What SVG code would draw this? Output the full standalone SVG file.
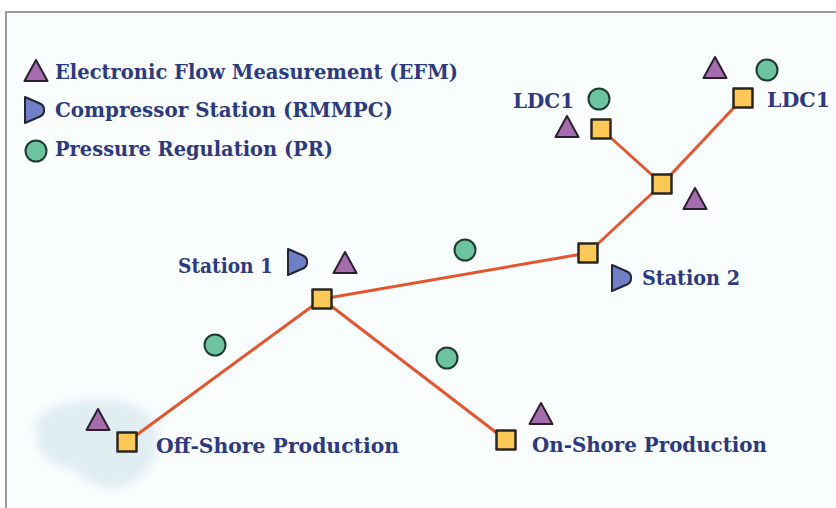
<svg xmlns="http://www.w3.org/2000/svg" width="836" height="508" viewBox="0 0 836 508">
  <style>
    .lbl { font-family: "DejaVu Serif", "Liberation Serif", serif; font-weight: bold; font-size: 21px; fill: #2d3a7e; }
    .pipe { stroke: #e5562e; stroke-width: 3; fill: none; stroke-linecap: round; }
    .sq { fill: #fdc956; stroke: #2a2620; stroke-width: 2.5; stroke-linejoin: round; }
    .efm { fill: #a56dad; stroke: #2c2030; stroke-width: 2; stroke-linejoin: round; }
    .pr { fill: #6dc39f; stroke: #1f3a30; stroke-width: 2; }
    .cmp { fill: #6f80c6; stroke: #222438; stroke-width: 2; stroke-linejoin: round; }
  </style>
  <defs>
    <path id="tri" d="M0,-11 L11.5,10 L-11.5,10 Z"/>
    <path id="comp" d="M0,0 L15,6.5 Q19,8.5 19,12 L19,14 Q19,17.5 15,19.5 L0,26 Z"/>
    <rect id="box" x="-9.5" y="-9.5" width="19" height="19"/>
    <filter id="blur" x="-20%" y="-20%" width="140%" height="140%">
      <feGaussianBlur stdDeviation="5"/>
    </filter>
  </defs>

  <!-- frame -->
  <rect x="0" y="0" width="836" height="508" fill="#ffffff"/>
  <rect x="6" y="12" width="832" height="500" fill="#f9fdfe"/>
  <path d="M6,508 L6,12 L836,12" fill="none" stroke="#9c9c9c" stroke-width="2"/>

  <!-- offshore water blob -->
  <path d="M36,428 C34,406 78,398 110,400 C144,402 162,422 157,448 C152,474 128,492 102,487 C84,483 78,468 60,465 C42,461 37,446 36,428 Z" fill="#e0edf1" filter="url(#blur)"/>

  <!-- legend -->
  <g id="legend-efm">
    <use href="#tri" class="efm" x="36" y="71"/>
    <text class="lbl" x="55" y="79" textLength="403" lengthAdjust="spacingAndGlyphs">Electronic Flow Measurement (EFM)</text>
  </g>
  <g id="legend-compressor">
    <use href="#comp" class="cmp" x="25" y="97"/>
    <text class="lbl" x="55" y="117" textLength="338" lengthAdjust="spacingAndGlyphs">Compressor Station (RMMPC)</text>
  </g>
  <g id="legend-pr">
    <circle class="pr" cx="36" cy="151" r="10.5"/>
    <text class="lbl" x="55" y="156" textLength="278" lengthAdjust="spacingAndGlyphs">Pressure Regulation (PR)</text>
  </g>

  <!-- connectors -->
  <g id="connectors">
    <line class="pipe" x1="127" y1="442" x2="322" y2="299"/>
    <line class="pipe" x1="322" y1="299" x2="588" y2="253"/>
    <line class="pipe" x1="322" y1="299" x2="506" y2="440"/>
    <line class="pipe" x1="588" y1="253" x2="662" y2="184"/>
    <line class="pipe" x1="662" y1="184" x2="601" y2="129"/>
    <line class="pipe" x1="662" y1="184" x2="743" y2="98"/>
  </g>

  <!-- pressure regulation markers along pipes -->
  <g id="pr-offshore-line"><circle class="pr" cx="215" cy="345" r="10.5"/></g>
  <g id="pr-onshore-line"><circle class="pr" cx="447" cy="358" r="10.5"/></g>
  <g id="pr-station-line"><circle class="pr" cx="465" cy="250" r="10.5"/></g>

  <!-- nodes -->
  <g id="offshore-production">
    <use href="#tri" class="efm" x="98" y="420"/>
    <use href="#box" class="sq" x="127" y="442"/>
    <text class="lbl" x="156" y="453" textLength="243" lengthAdjust="spacingAndGlyphs">Off-Shore Production</text>
  </g>
  <g id="station-1">
    <use href="#comp" class="cmp" x="288" y="249"/>
    <use href="#tri" class="efm" x="345" y="263"/>
    <use href="#box" class="sq" x="322" y="299"/>
    <text class="lbl" x="178" y="273" textLength="95" lengthAdjust="spacingAndGlyphs">Station 1</text>
  </g>
  <g id="onshore-production">
    <use href="#tri" class="efm" x="541" y="414"/>
    <use href="#box" class="sq" x="506" y="440"/>
    <text class="lbl" x="532" y="452" textLength="235" lengthAdjust="spacingAndGlyphs">On-Shore Production</text>
  </g>
  <g id="station-2">
    <use href="#box" class="sq" x="588" y="253"/>
    <use href="#comp" class="cmp" x="612" y="265"/>
    <text class="lbl" x="642" y="285" textLength="98" lengthAdjust="spacingAndGlyphs">Station 2</text>
  </g>
  <g id="junction">
    <use href="#box" class="sq" x="662" y="184"/>
    <use href="#tri" class="efm" x="695" y="199"/>
  </g>
  <g id="ldc1-left">
    <use href="#tri" class="efm" x="567" y="127"/>
    <use href="#box" class="sq" x="601" y="129"/>
    <circle class="pr" cx="599" cy="99" r="10.5"/>
    <text class="lbl" x="513" y="108" textLength="61" lengthAdjust="spacingAndGlyphs">LDC1</text>
  </g>
  <g id="ldc1-right">
    <use href="#tri" class="efm" x="715" y="68"/>
    <circle class="pr" cx="767" cy="70" r="10.5"/>
    <use href="#box" class="sq" x="743" y="98"/>
    <text class="lbl" x="767" y="107" textLength="63" lengthAdjust="spacingAndGlyphs">LDC1</text>
  </g>
</svg>
